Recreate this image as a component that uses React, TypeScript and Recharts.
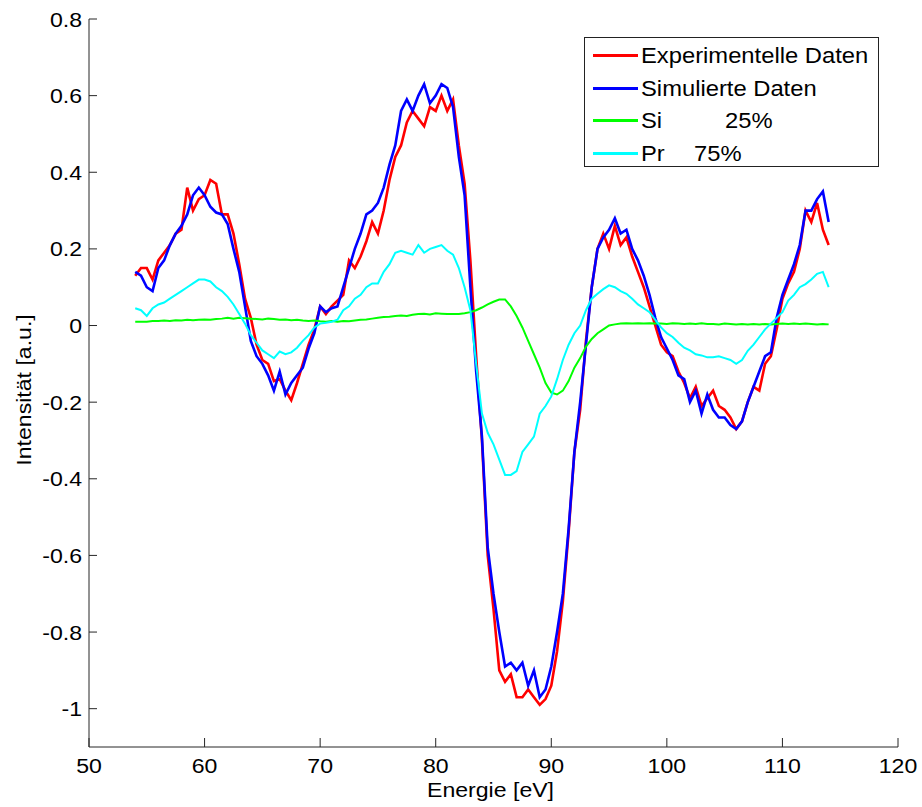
import { Legend, Line, LineChart, XAxis, YAxis } from "recharts"

// energy grid (eV) and the four spectra
const energies = [
  54, 54.5, 55, 55.5, 56, 56.5, 57, 57.5, 58, 58.5,
  59, 59.5, 60, 60.5, 61, 61.5, 62, 62.5, 63, 63.5,
  64, 64.5, 65, 65.5, 66, 66.5, 67, 67.5, 68, 68.5,
  69, 69.5, 70, 70.5, 71, 71.5, 72, 72.5, 73, 73.5,
  74, 74.5, 75, 75.5, 76, 76.5, 77, 77.5, 78, 78.5,
  79, 79.5, 80, 80.5, 81, 81.5, 82, 82.5, 83, 83.5,
  84, 84.5, 85, 85.5, 86, 86.5, 87, 87.5, 88, 88.5,
  89, 89.5, 90, 90.5, 91, 91.5, 92, 92.5, 93, 93.5,
  94, 94.5, 95, 95.5, 96, 96.5, 97, 97.5, 98, 98.5,
  99, 99.5, 100, 100.5, 101, 101.5, 102, 102.5, 103, 103.5,
  104, 104.5, 105, 105.5, 106, 106.5, 107, 107.5, 108, 108.5,
  109, 109.5, 110, 110.5, 111, 111.5, 112, 112.5, 113, 113.5,
  114,
]

const experimental = [
  0.13, 0.15, 0.15, 0.12, 0.17, 0.19, 0.21, 0.24, 0.25, 0.36,
  0.3, 0.33, 0.34, 0.38, 0.37, 0.29, 0.29, 0.24, 0.16, 0.07,
  0.02, -0.05, -0.09, -0.1, -0.145, -0.14, -0.17, -0.195, -0.15, -0.1,
  -0.05, -0.01, 0.05, 0.03, 0.05, 0.065, 0.08, 0.17, 0.15, 0.18,
  0.22, 0.27, 0.24, 0.3, 0.38, 0.44, 0.47, 0.53, 0.56, 0.54,
  0.52, 0.57, 0.56, 0.6, 0.56, 0.59, 0.47, 0.37, 0.17, -0.08,
  -0.3, -0.6, -0.74, -0.9, -0.93, -0.91, -0.97, -0.97, -0.95, -0.97,
  -0.99, -0.975, -0.94, -0.85, -0.72, -0.54, -0.33, -0.22, -0.04, 0.1,
  0.2, 0.24, 0.2, 0.26, 0.21, 0.23, 0.18, 0.14, 0.1, 0.05,
  0.0, -0.05, -0.07, -0.08, -0.12, -0.15, -0.19, -0.16, -0.21, -0.19,
  -0.17, -0.21, -0.22, -0.24, -0.27, -0.25, -0.2, -0.16, -0.17, -0.1,
  -0.08, -0.01, 0.07, 0.11, 0.14, 0.2, 0.3, 0.27, 0.32, 0.25,
  0.21,
]

const simulated = [
  0.14, 0.13, 0.1, 0.09, 0.15, 0.17, 0.21, 0.24, 0.26, 0.29,
  0.34, 0.36, 0.34, 0.31, 0.295, 0.29, 0.265, 0.2, 0.14, 0.05,
  -0.04, -0.08, -0.1, -0.13, -0.17, -0.12, -0.18, -0.15, -0.13, -0.11,
  -0.06, -0.02, 0.05, 0.035, 0.045, 0.05, 0.1, 0.15, 0.2, 0.24,
  0.29, 0.3, 0.32, 0.36, 0.42, 0.47, 0.56, 0.59, 0.56, 0.6,
  0.63, 0.58, 0.6, 0.63, 0.62, 0.57, 0.44, 0.34, 0.1, -0.12,
  -0.29, -0.58, -0.7, -0.8, -0.89, -0.88, -0.9, -0.88, -0.94, -0.9,
  -0.97, -0.95, -0.89, -0.8, -0.7, -0.53, -0.33, -0.2, -0.05, 0.1,
  0.2, 0.23, 0.25, 0.28, 0.24, 0.25, 0.2, 0.17, 0.13, 0.08,
  0.02, -0.03, -0.06, -0.09, -0.13, -0.14, -0.2, -0.17, -0.23, -0.18,
  -0.22, -0.24, -0.24, -0.26, -0.27, -0.25, -0.2, -0.16, -0.12, -0.08,
  -0.07, 0.02, 0.08, 0.12, 0.16, 0.21, 0.3, 0.3, 0.33, 0.35,
  0.27,
]

const silicon = [
  0.01, 0.01, 0.01, 0.012, 0.012, 0.013, 0.012, 0.014, 0.013, 0.015,
  0.014, 0.015, 0.016, 0.015, 0.017, 0.018, 0.02, 0.018, 0.02, 0.019,
  0.018, 0.017, 0.016, 0.018, 0.017, 0.015, 0.016, 0.014, 0.015, 0.013,
  0.012, 0.013, 0.011, 0.01, 0.012, 0.01, 0.012, 0.011, 0.013, 0.015,
  0.016, 0.018, 0.02, 0.022, 0.023, 0.025, 0.026, 0.025, 0.028, 0.03,
  0.031, 0.029, 0.032, 0.031, 0.03, 0.03, 0.03, 0.032, 0.035, 0.04,
  0.047, 0.055, 0.062, 0.068, 0.068, 0.05, 0.025, -0.005, -0.04, -0.075,
  -0.11, -0.15, -0.175, -0.18, -0.17, -0.145, -0.11, -0.085, -0.055, -0.035,
  -0.02, -0.01, 0.0, 0.003, 0.005, 0.006, 0.005, 0.006, 0.005, 0.006,
  0.005, 0.005, 0.004, 0.006, 0.005, 0.004, 0.005, 0.004, 0.006, 0.004,
  0.004, 0.003, 0.005, 0.004, 0.003, 0.004, 0.003, 0.004, 0.003, 0.004,
  0.003, 0.004, 0.005, 0.004, 0.005, 0.004, 0.005, 0.004, 0.003, 0.004,
  0.003,
]

const praseodymium = [
  0.045, 0.04, 0.025, 0.045, 0.055, 0.06, 0.07, 0.08, 0.09, 0.1,
  0.11, 0.12, 0.12, 0.115, 0.1, 0.09, 0.075, 0.055, 0.03, 0.005,
  -0.025, -0.045, -0.065, -0.075, -0.085, -0.068, -0.075, -0.07, -0.058, -0.04,
  -0.025, -0.005, 0.005, 0.007, 0.01, 0.015, 0.04, 0.05, 0.07, 0.08,
  0.1, 0.11, 0.11, 0.14, 0.16, 0.19, 0.195, 0.19, 0.185, 0.21,
  0.19, 0.2, 0.205, 0.21, 0.195, 0.185, 0.15, 0.1, 0.04, -0.1,
  -0.23, -0.28, -0.31, -0.35, -0.39, -0.39, -0.38, -0.33, -0.31, -0.29,
  -0.23, -0.21, -0.185, -0.14, -0.09, -0.05, -0.02, 0.0, 0.04, 0.07,
  0.083, 0.095, 0.105, 0.1, 0.09, 0.083, 0.07, 0.055, 0.045, 0.035,
  0.015, -0.005, -0.02, -0.03, -0.045, -0.058, -0.065, -0.075, -0.078, -0.083,
  -0.083, -0.08, -0.085, -0.09, -0.1, -0.09, -0.066, -0.05, -0.03, -0.01,
  0.005, 0.02, 0.035, 0.065, 0.08, 0.1, 0.108, 0.12, 0.135, 0.14,
  0.1,
]

const xTicks = [50, 60, 70, 80, 90, 100, 110, 120]
const yTicks = [-1, -0.8, -0.6, -0.4, -0.2, 0, 0.2, 0.4, 0.6, 0.8]

const legendRows = [
  { name: "Experimentelle Daten", pct: "", color: "#ff0000" },
  { name: "Simulierte Daten", pct: "", color: "#0000ff" },
  { name: "Si", pct: "25%", pctLeft: 140, color: "#00ff00" },
  { name: "Pr", pct: "75%", pctLeft: 109, color: "#00ffff" },
]

const FONT = "'Liberation Sans', Arial, Helvetica, sans-serif"
const AXIS = "#262626"
const STRETCH = "scale(1.1,1)"

const fmtY = (v: number) => (v === 0 ? "0" : String(Number(v.toFixed(1))))

function BottomTick({ x, y, payload }: any) {
  return (
    <g>
      <line x1={x} y1={y} x2={x} y2={y - 9} stroke={AXIS} />
      <text
        transform={`translate(${x},${y + 26}) ${STRETCH}`}
        textAnchor="middle"
        fontFamily={FONT}
        fontSize={21}
        fill="#000"
      >
        {payload.value}
      </text>
    </g>
  )
}

function TopTick({ x, y }: any) {
  return <line x1={x} y1={y} x2={x} y2={y + 9} stroke={AXIS} />
}

function LeftTick({ x, y, payload }: any) {
  return (
    <g>
      <line x1={x} y1={y} x2={x + 8} y2={y} stroke={AXIS} />
      <text
        transform={`translate(${x - 7},${y + 7.5}) ${STRETCH}`}
        textAnchor="end"
        fontFamily={FONT}
        fontSize={21}
        fill="#000"
      >
        {fmtY(payload.value)}
      </text>
    </g>
  )
}

function RightTick({ x, y }: any) {
  return <line x1={x} y1={y} x2={x - 9} y2={y} stroke={AXIS} />
}

function XLabel(props: any) {
  const vb = props.viewBox ?? { x: 89, y: 747, width: 809, height: 60 }
  return (
    <text
      transform={`translate(${vb.x + vb.width / 2 - 3},${vb.y + 50}) ${STRETCH}`}
      textAnchor="middle"
      fontFamily={FONT}
      fontSize={21}
      fill="#000"
    >
      Energie [eV]
    </text>
  )
}

function YLabel(props: any) {
  const vb = props.viewBox ?? { x: 0, y: 19, width: 89, height: 728 }
  return (
    <text
      transform={`translate(31,${vb.y + vb.height / 2 + 7}) rotate(-90) ${STRETCH}`}
      textAnchor="middle"
      fontFamily={FONT}
      fontSize={21}
      fill="#000"
    >
      Intensität [a.u.]
    </text>
  )
}

function LegendBox() {
  return (
    <div
      style={{
        position: "relative",
        width: 295,
        height: 130,
        boxSizing: "border-box",
        border: "1px solid #222",
        background: "#fff",
        fontFamily: FONT,
        fontSize: 22,
        color: "#000",
      }}
    >
      {legendRows.map((r, i) => (
        <div
          key={r.name}
          style={{ position: "absolute", left: 0, top: 17 + i * 32.7 - 13, height: 26, width: 293 }}
        >
          <div
            style={{
              position: "absolute",
              left: 8,
              top: 12,
              width: 45,
              height: 3,
              background: r.color,
            }}
          />
          <span
            style={{
              position: "absolute",
              left: 56,
              top: 0,
              lineHeight: "28px",
              whiteSpace: "nowrap",
              transform: "scaleX(1.08)",
              transformOrigin: "left center",
            }}
          >
            {r.name}
          </span>
          {r.pct && (
            <span
              style={{
                position: "absolute",
                left: r.pctLeft,
                top: 0,
                lineHeight: "28px",
                whiteSpace: "nowrap",
                transform: "scaleX(1.08)",
                transformOrigin: "left center",
              }}
            >
              {r.pct}
            </span>
          )}
        </div>
      ))}
    </div>
  )
}

export default function App() {
  const data = energies.map((e, i) => ({
    e,
    exp: experimental[i],
    sim: simulated[i],
    si: silicon[i],
    pr: praseodymium[i],
  }))

  return (
    <div style={{ position: "absolute", left: 0, top: 0, width: 922, height: 807, background: "#fff" }}>
      <LineChart width={922} height={807} data={data} margin={{ top: 19, right: 24, bottom: 0, left: 0 }}>
        <XAxis
          dataKey="e"
          type="number"
          domain={[50, 120]}
          allowDataOverflow
          ticks={xTicks}
          interval={0}
          height={60}
          tickSize={0}
          tickMargin={0}
          tickLine={false}
          axisLine={{ stroke: AXIS }}
          tick={<BottomTick />}
          label={<XLabel />}
        />
        <XAxis
          xAxisId="top"
          orientation="top"
          dataKey="e"
          type="number"
          domain={[50, 120]}
          allowDataOverflow
          ticks={xTicks}
          interval={0}
          height={0}
          tickSize={0}
          tickMargin={0}
          tickLine={false}
          axisLine={{ stroke: AXIS }}
          tick={<TopTick />}
        />
        <YAxis
          type="number"
          domain={[-1.1, 0.8]}
          allowDataOverflow
          ticks={yTicks}
          interval={0}
          width={89}
          tickSize={0}
          tickMargin={0}
          tickLine={false}
          axisLine={{ stroke: AXIS }}
          tick={<LeftTick />}
          label={<YLabel />}
        />
        <YAxis
          yAxisId="right"
          orientation="right"
          type="number"
          domain={[-1.1, 0.8]}
          allowDataOverflow
          ticks={yTicks}
          interval={0}
          width={0}
          tickSize={0}
          tickMargin={0}
          tickLine={false}
          axisLine={{ stroke: AXIS }}
          tick={<RightTick />}
        />
        <Legend
          layout="vertical"
          align="center"
          verticalAlign="middle"
          wrapperStyle={{ left: 584, top: 37, width: 295, height: 130 }}
          content={() => <LegendBox />}
        />
        <Line dataKey="exp" stroke="#ff0000" strokeWidth={2.6} dot={false} isAnimationActive={false} />
        <Line dataKey="sim" stroke="#0000ff" strokeWidth={2.6} dot={false} isAnimationActive={false} />
        <Line dataKey="si" stroke="#00ff00" strokeWidth={2} dot={false} isAnimationActive={false} />
        <Line dataKey="pr" stroke="#00ffff" strokeWidth={2} dot={false} isAnimationActive={false} />
      </LineChart>
    </div>
  )
}
